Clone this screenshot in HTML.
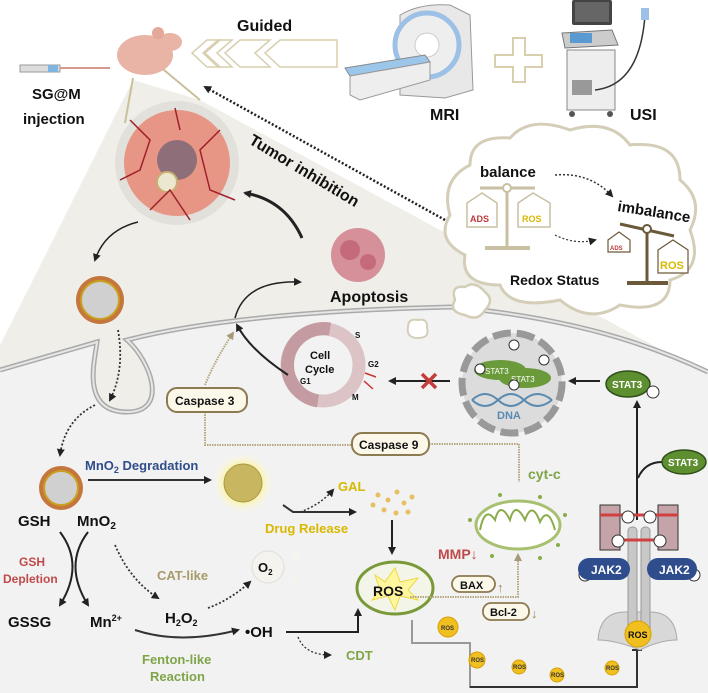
<!DOCTYPE html>
<html><head><meta charset="utf-8"><style>
html,body{margin:0;padding:0;background:#fff}
svg{display:block;font-family:"Liberation Sans",Arial,sans-serif;font-weight:bold}
</style></head><body>
<svg width="708" height="693" viewBox="0 0 708 693" xmlns="http://www.w3.org/2000/svg">
<defs>
<marker id="ah" markerWidth="8" markerHeight="8" refX="6" refY="4" orient="auto" markerUnits="userSpaceOnUse"><path d="M0,0 L8,4 L0,8 Z" fill="#222"/></marker>
<marker id="aht" markerWidth="8" markerHeight="8" refX="6" refY="4" orient="auto" markerUnits="userSpaceOnUse"><path d="M0,0 L8,4 L0,8 Z" fill="#a59a78"/></marker>
<radialGradient id="glow"><stop offset="0.5" stop-color="#fff27a"/><stop offset="1" stop-color="#fffbe0" stop-opacity="0"/></radialGradient>
</defs>
<path d="M133,80 L200,100 L708,375 L708,693 L0,693 L0,345 L33,280 Z" fill="#efeee8"/>
<path d="M0,370 L97,342 C95,360 80,412 127,412 C170,412 150,360 127,340 Q235,312 451,307 Q600,320 708,372 L708,693 L0,693 Z" fill="#f2f2f2"/>
<path d="M0,370 L97,342 C95,360 80,412 127,412 C170,412 150,360 127,340 Q235,312 451,307 Q600,320 708,372" fill="none" stroke="#aaa" stroke-width="5"/>
<path d="M0,370 L97,342 C95,360 80,412 127,412 C170,412 150,360 127,340 Q235,312 451,307 Q600,320 708,372" fill="none" stroke="#e6e6e6" stroke-width="2"/>
<line x1="133" y1="78" x2="125" y2="123" stroke="#c9c09a" stroke-width="2"/>
<line x1="158" y1="65" x2="200" y2="100" stroke="#c9c09a" stroke-width="2"/>
<rect x="20" y="65" width="40" height="7" fill="#ddd" stroke="#999"/><rect x="48" y="65" width="10" height="7" fill="#7fb6e0"/><line x1="60" y1="68" x2="110" y2="68" stroke="#d59b8f" stroke-width="2"/>
<ellipse cx="145" cy="55" rx="28" ry="20" fill="#e9b3a6"/><ellipse cx="170" cy="42" rx="12" ry="9" fill="#e9b3a6"/><circle cx="158" cy="33" r="6" fill="#e3a898"/>
<text x="32" y="99" font-size="15" fill="#111">SG@M</text>
<text x="23" y="124" font-size="15" fill="#111">injection</text>
<text x="237" y="31" font-size="16" fill="#111">Guided</text>
<g fill="none" stroke="#d7cfae" stroke-width="1.5">
<path d="M337,40 L280,40 L265,53 L280,67 L337,67 Z"/>
<path d="M270,40 L240,40 L225,53 L240,67 L270,67 L255,53 Z"/>
<path d="M232,40 L218,40 L203,53 L218,67 L232,67 L217,53 Z"/>
<path d="M220,40 L207,40 L192,53 L207,67 L220,67 L205,53 Z"/>
</g>
<!-- MRI -->
<path d="M400,15 Q420,3 450,5 L470,15 L473,90 L445,98 L400,95 Z" fill="#e8e8e8" stroke="#999"/>
<circle cx="427" cy="45" r="32" fill="#eee" stroke="#9cc0e6" stroke-width="5"/>
<circle cx="427" cy="45" r="12" fill="#fff" stroke="#ccc"/>
<path d="M345,68 L425,55 L430,62 L350,76 Z" fill="#9cc7ea" stroke="#888"/>
<path d="M350,76 L430,62 L430,80 L360,100 L350,95 Z" fill="#eee" stroke="#999"/>
<text x="430" y="120" font-size="16" fill="#111">MRI</text>
<path d="M513,38 h12 v17 h17 v12 h-17 v15 h-12 v-15 h-18 v-12 h18 z" fill="#fff" stroke="#d7cfae" stroke-width="2"/>
<!-- ultrasound -->
<rect x="572" y="0" width="40" height="25" rx="2" fill="#444"/><rect x="575" y="2" width="34" height="20" fill="#666"/>
<path d="M562,33 L612,30 L618,45 L565,48 Z" fill="#ccc" stroke="#777"/><rect x="570" y="33" width="22" height="10" fill="#5a9ad0"/>
<rect x="567" y="50" width="48" height="60" fill="#eee" stroke="#888"/>
<rect x="572" y="80" width="20" height="15" fill="#999"/>
<circle cx="572" cy="114" r="3" fill="#555"/><circle cx="610" cy="114" r="3" fill="#555"/>
<path d="M595,90 Q640,85 645,15" fill="none" stroke="#333" stroke-width="1.5"/><rect x="641" y="8" width="8" height="12" fill="#9cc0e6"/>
<text x="630" y="120" font-size="16" fill="#111">USI</text>
<line x1="445" y1="220" x2="205" y2="87" stroke="#222" stroke-width="2.5" stroke-dasharray="2,2" marker-end="url(#ah)"/>
<circle cx="177" cy="163" r="62" fill="#dcdad4" opacity=".7"/>
<circle cx="177" cy="163" r="53" fill="#e79585"/>
<circle cx="177" cy="160" r="20" fill="#8e6e78"/>
<circle cx="167" cy="182" r="10" fill="#ece8d0" stroke="#c9b070" stroke-width="2"/>
<g stroke="#a0202a" stroke-width="1.5" fill="none"><path d="M130,120 L150,140 L140,170 L120,180"/><path d="M220,130 L200,150 L210,190 L235,200"/><path d="M150,210 L170,190 L190,220"/><path d="M175,108 L180,130"/></g>
<text transform="translate(248,143) rotate(31)" font-size="16" fill="#111">Tumor inhibition</text>
<circle cx="358" cy="255" r="27" fill="#d6909a"/>
<circle cx="350" cy="250" r="10" fill="#c56a7a"/><circle cx="368" cy="262" r="8" fill="#c56a7a"/>
<text x="330" y="302" font-size="16" fill="#111">Apoptosis</text>
<path d="M302,238 Q285,200 245,193" fill="none" stroke="#222" stroke-width="3" marker-end="url(#ah)"/>
<path d="M235,318 Q245,280 300,282" fill="none" stroke="#222" stroke-width="1.5" marker-end="url(#ah)"/>
<path d="M138,222 Q105,230 95,260" fill="none" stroke="#222" stroke-width="1.5" marker-end="url(#ah)"/>
<ellipse cx="100" cy="300" rx="24" ry="24" fill="#c5763c"/><ellipse cx="100" cy="300" rx="19" ry="19" fill="#d0d0d0" stroke="#c9a020" stroke-width="2"/>
<path d="M118,330 Q125,370 110,400" fill="none" stroke="#333" stroke-width="1.8" stroke-dasharray="2,2" marker-end="url(#ah)"/>
<path d="M95,405 Q65,420 60,455" fill="none" stroke="#333" stroke-width="1.8" stroke-dasharray="2,2" marker-end="url(#ah)"/>
<path d="M470,165 Q470,135 510,138 Q530,115 570,130 Q610,118 630,145 Q680,140 680,180 Q705,200 690,230 Q705,270 670,280 Q670,315 620,305 Q590,325 560,300 Q510,310 500,285 Q460,285 465,255 Q435,240 450,215 Q440,180 470,165 Z" fill="#fff" stroke="#d4ceb8" stroke-width="3"/>
<path d="M455,300 Q450,285 465,287 Q475,280 485,292 Q495,300 485,310 Q478,322 465,315 Q448,312 455,300 Z" fill="#fff" stroke="#d4ceb8" stroke-width="2.5"/>
<path d="M408,327 Q408,318 418,320 Q428,318 427,328 Q430,338 418,338 Q406,338 408,327 Z" fill="#fff" stroke="#d4ceb8" stroke-width="2"/>
<text x="480" y="177" font-size="15" fill="#111">balance</text>
<line x1="480" y1="188" x2="535" y2="188" stroke="#c9bfa2" stroke-width="3"/><circle cx="507" cy="188" r="4" fill="#fff" stroke="#c9bfa2" stroke-width="2"/>
<line x1="507" y1="192" x2="507" y2="248" stroke="#c9bfa2" stroke-width="3"/><line x1="485" y1="248" x2="530" y2="248" stroke="#c9bfa2" stroke-width="4"/>
<path d="M467,203 L482,193 L497,203 L497,227 L467,227 Z" fill="#fff" stroke="#c9bfa2" stroke-width="1.5"/>
<path d="M518,203 L533,193 L550,203 L550,227 L518,227 Z" fill="#fff" stroke="#c9bfa2" stroke-width="1.5"/>
<text x="470" y="222" font-size="9" fill="#c03a3a">ADS</text><text x="522" y="222" font-size="9" fill="#d8b800">ROS</text>
<path d="M555,175 Q590,172 612,196" fill="none" stroke="#333" stroke-width="1.5" stroke-dasharray="2,2" marker-end="url(#ah)"/>
<path d="M555,235 Q575,245 595,240" fill="none" stroke="#333" stroke-width="1.2" stroke-dasharray="2,2" marker-end="url(#ah)"/>
<text transform="translate(617,211) rotate(9)" font-size="15" fill="#111">imbalance</text>
<line x1="620" y1="224" x2="674" y2="236" stroke="#6b5a3a" stroke-width="3"/><circle cx="647" cy="229" r="4" fill="#fff" stroke="#6b5a3a" stroke-width="2"/>
<line x1="647" y1="233" x2="647" y2="283" stroke="#6b5a3a" stroke-width="3"/><line x1="627" y1="283" x2="668" y2="283" stroke="#6b5a3a" stroke-width="4"/>
<path d="M608,240 L619,232 L630,240 L630,252 L608,252 Z" fill="#fff" stroke="#6b5a3a" stroke-width="1.2"/>
<path d="M658,250 L673,240 L688,250 L688,273 L658,273 Z" fill="#fff" stroke="#6b5a3a" stroke-width="1.2"/>
<text x="610" y="250" font-size="6" fill="#c03a3a">ADS</text><text x="660" y="269" font-size="11" fill="#d8b800">ROS</text>
<text x="510" y="285" font-size="14" fill="#111">Redox Status</text>
<circle cx="323" cy="365" r="36" fill="none" stroke="#dcc4c6" stroke-width="13"/>
<path d="M330,329 A36,36 0 0 0 318,401" fill="none" stroke="#c49ba0" stroke-width="13"/>
<text x="310" y="359" font-size="11" fill="#111">Cell</text><text x="305" y="373" font-size="11" fill="#111">Cycle</text>
<text x="355" y="338" font-size="8" fill="#111">S</text><text x="368" y="367" font-size="8" fill="#111">G2</text>
<text x="300" y="384" font-size="8" fill="#111">G1</text><text x="352" y="400" font-size="8" fill="#111">M</text>
<line x1="365" y1="373" x2="376" y2="377" stroke="#c33" stroke-width="1.5"/><line x1="364" y1="381" x2="373" y2="389" stroke="#c33" stroke-width="1.5"/>
<path d="M288,375 Q250,350 237,325" fill="none" stroke="#222" stroke-width="2" marker-end="url(#ah)"/>
<line x1="450" y1="381" x2="390" y2="381" stroke="#222" stroke-width="2" marker-end="url(#ah)"/>
<path d="M422,374 L436,388 M436,374 L422,388" stroke="#c43c3c" stroke-width="3.5"/>
<circle cx="512" cy="383" r="50" fill="#dcdcdc" stroke="#999" stroke-width="7" stroke-dasharray="18,6"/>
<ellipse cx="500" cy="370" rx="26" ry="10" fill="#6a9a3a"/><ellipse cx="525" cy="378" rx="26" ry="10" fill="#6a9a3a"/>
<text x="485" y="374" font-size="8" fill="#fff" font-weight="normal">STAT3</text><text x="511" y="382" font-size="8" fill="#fff" font-weight="normal">STAT3</text>
<g fill="#fff" stroke="#333"><circle cx="514" cy="345" r="5"/><circle cx="480" cy="369" r="5"/><circle cx="544" cy="360" r="5"/><circle cx="514" cy="385" r="5"/></g>
<path d="M472,400 Q485,388 498,400 Q511,412 524,400 Q537,388 552,400" fill="none" stroke="#5a8ab0" stroke-width="2"/>
<path d="M472,400 Q485,412 498,400 Q511,388 524,400 Q537,412 552,400" fill="none" stroke="#5a8ab0" stroke-width="2"/>
<text x="497" y="419" font-size="11" fill="#5a8ab0">DNA</text>
<line x1="600" y1="381" x2="570" y2="381" stroke="#222" stroke-width="2" marker-end="url(#ah)"/>
<ellipse cx="628" cy="384" rx="22" ry="13" fill="#5d8e2f" stroke="#2f4f1a" stroke-width="1.5"/>
<text x="612" y="388" font-size="10" fill="#fff">STAT3</text><circle cx="653" cy="392" r="6" fill="#fff" stroke="#333"/>
<line x1="637" y1="520" x2="637" y2="402" stroke="#222" stroke-width="2" marker-end="url(#ah)"/>
<path d="M662,462 Q645,462 638,478" fill="none" stroke="#222" stroke-width="2"/>
<ellipse cx="684" cy="462" rx="22" ry="12" fill="#5d8e2f" stroke="#2f4f1a" stroke-width="1.5"/>
<text x="668" y="466" font-size="10" fill="#fff">STAT3</text>
<path d="M205,412 L205,445 L352,445" fill="none" stroke="#b6a880" stroke-width="2" stroke-dasharray="1.5,1"/>
<path d="M429,444 L519,444 L519,482" fill="none" stroke="#b6a880" stroke-width="2" stroke-dasharray="1.5,1"/>
<path d="M205,385 Q215,360 233,333" fill="none" stroke="#b6a880" stroke-width="2" stroke-dasharray="1.5,1" marker-end="url(#aht)"/>
<rect x="167" y="388" width="80" height="24" rx="10" fill="#fbf8ea" stroke="#8c7a50" stroke-width="2"/>
<text x="175" y="405" font-size="12" fill="#111">Caspase 3</text>
<rect x="352" y="433" width="77" height="22" rx="10" fill="#fbf8ea" stroke="#8c7a50" stroke-width="2"/>
<text x="359" y="449" font-size="12" fill="#111">Caspase 9</text>
<text x="528" y="479" font-size="14" fill="#7fa548">cyt-c</text>
<ellipse cx="61" cy="488" rx="22" ry="22" fill="#c5763c"/><ellipse cx="61" cy="488" rx="17" ry="17" fill="#d0d0d0" stroke="#c9a020" stroke-width="2"/>
<text x="85" y="470" font-size="13" fill="#2f4d8c">MnO<tspan font-size="9" dy="3">2</tspan><tspan dy="-3"> Degradation</tspan></text>
<line x1="88" y1="480" x2="210" y2="480" stroke="#333" stroke-width="2" marker-end="url(#ah)"/>
<circle cx="243" cy="483" r="30" fill="url(#glow)"/>
<circle cx="243" cy="483" r="19" fill="#c9b660" stroke="#a89a40"/>
<path d="M283,505 L293,512 L355,512" fill="none" stroke="#333" stroke-width="2" marker-end="url(#ah)"/>
<path d="M300,512 Q320,505 333,490" fill="none" stroke="#333" stroke-width="1.5" stroke-dasharray="2,2" marker-end="url(#ah)"/>
<text x="338" y="491" font-size="13" fill="#d8b800">GAL</text>
<text x="265" y="533" font-size="13" fill="#d8b800">Drug Release</text>
<g fill="#e6c060"><circle cx="378" cy="495" r="2.5"/><circle cx="388" cy="500" r="2.5"/><circle cx="397" cy="492" r="2.5"/><circle cx="404" cy="503" r="2.5"/><circle cx="384" cy="510" r="2.5"/><circle cx="396" cy="513" r="2.5"/><circle cx="412" cy="497" r="2.5"/><circle cx="408" cy="512" r="2.5"/><circle cx="373" cy="505" r="2.5"/></g>
<line x1="392" y1="520" x2="392" y2="553" stroke="#222" stroke-width="2" marker-end="url(#ah)"/>
<text x="18" y="526" font-size="15" fill="#111">GSH</text>
<text x="77" y="526" font-size="15" fill="#111">MnO<tspan font-size="10" dy="3">2</tspan></text>
<path d="M60,532 Q85,565 60,605" fill="none" stroke="#222" stroke-width="2" marker-end="url(#ah)"/>
<path d="M88,532 Q63,565 88,605" fill="none" stroke="#222" stroke-width="2" marker-end="url(#ah)"/>
<text x="19" y="566" font-size="12" fill="#c04a4a">GSH</text>
<text x="3" y="583" font-size="12" fill="#c04a4a">Depletion</text>
<text x="8" y="627" font-size="15" fill="#111">GSSG</text>
<text x="90" y="627" font-size="15" fill="#111">Mn<tspan font-size="9" dy="-6">2+</tspan></text>
<path d="M115,545 Q130,580 158,598" fill="none" stroke="#333" stroke-width="1.8" stroke-dasharray="2,2" marker-end="url(#ah)"/>
<text x="157" y="580" font-size="13" fill="#a89a6a">CAT-like</text>
<text x="165" y="623" font-size="15" fill="#111">H<tspan font-size="9" dy="3">2</tspan><tspan dy="-3">O</tspan><tspan font-size="9" dy="3">2</tspan></text>
<path d="M208,608 Q230,600 250,582" fill="none" stroke="#333" stroke-width="1.8" stroke-dasharray="2,2" marker-end="url(#ah)"/>
<circle cx="268" cy="567" r="16" fill="#f4f3ee" stroke="#ddd"/>
<text x="258" y="572" font-size="13" fill="#111">O<tspan font-size="8" dy="3">2</tspan></text>
<circle cx="296" cy="555" r="5" fill="#f4f3ee"/><circle cx="295" cy="578" r="5" fill="#f4f3ee"/>
<path d="M135,630 Q180,645 238,630" fill="none" stroke="#333" stroke-width="2" marker-end="url(#ah)"/>
<text x="245" y="637" font-size="15" fill="#111">•OH</text>
<path d="M286,632 L358,632 L358,610" fill="none" stroke="#222" stroke-width="2" marker-end="url(#ah)"/>
<path d="M298,637 Q305,655 330,655" fill="none" stroke="#333" stroke-width="1.3" stroke-dasharray="2,2" marker-end="url(#ah)"/>
<text x="346" y="660" font-size="13" fill="#7fa548">CDT</text>
<text x="142" y="664" font-size="13" fill="#7fa548">Fenton-like</text>
<text x="150" y="681" font-size="13" fill="#7fa548">Reaction</text>
<ellipse cx="395" cy="588" rx="38" ry="26" fill="#f3f5e8" stroke="#7a9a3a" stroke-width="3"/>
<path d="M375,575 L385,582 L395,568 L400,582 L418,578 L408,590 L418,600 L400,596 L395,610 L388,596 L372,600 L380,590 Z" fill="#fff7a0" stroke="#f0d840"/>
<text x="373" y="596" font-size="14" fill="#111">ROS</text>
<ellipse cx="518" cy="525" rx="42" ry="24" fill="#fff" stroke="#a8c070" stroke-width="3"/>
<path d="M480,530 Q485,505 495,520 Q500,500 510,520 Q515,500 525,520 Q532,500 540,522 Q548,505 555,530" fill="none" stroke="#8aab4a" stroke-width="2"/>
<g fill="#8aab4a"><circle cx="470" cy="520" r="2"/><circle cx="565" cy="515" r="2"/><circle cx="500" cy="495" r="2"/><circle cx="540" cy="497" r="2"/><circle cx="492" cy="556" r="2"/><circle cx="540" cy="558" r="2"/><circle cx="558" cy="545" r="2"/></g>
<text x="438" y="559" font-size="14" fill="#c04a4a">MMP↓</text>
<path d="M410,597 L518,597 L518,555" fill="none" stroke="#b6a880" stroke-width="2" stroke-dasharray="1.5,1" marker-end="url(#aht)"/>
<rect x="452" y="576" width="43" height="16" rx="8" fill="#fbf8ea" stroke="#8c7a50" stroke-width="1.8"/>
<text x="460" y="589" font-size="11" fill="#111">BAX</text><text x="497" y="592" font-size="13" fill="#a08a50" font-weight="normal">↑</text>
<rect x="483" y="603" width="46" height="17" rx="8" fill="#fbf8ea" stroke="#8c7a50" stroke-width="1.8"/>
<text x="490" y="616" font-size="11" fill="#111">Bcl-2</text><text x="531" y="618" font-size="13" fill="#a08a50" font-weight="normal">↓</text>
<path d="M412,620 L412,643 L470,643 L470,687 L637,687 L637,650" fill="none" stroke="#999" stroke-width="2"/>
<path d="M470,687 L637,687 L637,650" fill="none" stroke="#333" stroke-width="2"/><line x1="632" y1="650" x2="642" y2="650" stroke="#333" stroke-width="2"/>
<g fill="#f0c020" stroke="#d8a000"><circle cx="448" cy="627" r="10"/><circle cx="477" cy="660" r="8"/><circle cx="519" cy="667" r="7"/><circle cx="557" cy="675" r="7"/><circle cx="612" cy="668" r="7"/></g>
<g font-size="6" fill="#333"><text x="441" y="630">ROS</text><text x="471" y="662">ROS</text><text x="513" y="669">ROS</text><text x="551" y="677">ROS</text><text x="606" y="670">ROS</text></g>
<path d="M598,640 Q600,612 625,612 L650,612 Q675,612 677,640 Q660,640 640,650 Q615,640 598,640 Z" fill="#d8d8d8" stroke="#aaa"/>
<rect x="628" y="527" width="9" height="105" rx="4" fill="#c8c8c8" stroke="#999"/>
<rect x="641" y="527" width="9" height="105" rx="4" fill="#c8c8c8" stroke="#999"/>
<path d="M600,505 L620,505 L620,550 L600,550 Z" fill="#c4a4a8" stroke="#333"/>
<path d="M658,505 L678,505 L678,550 L658,550 Z" fill="#c4a4a8" stroke="#333"/>
<line x1="600" y1="515" x2="678" y2="515" stroke="#d04040" stroke-width="3"/>
<line x1="615" y1="540" x2="662" y2="540" stroke="#d04040" stroke-width="3"/>
<g fill="#fff" stroke="#333"><circle cx="628" cy="517" r="6"/><circle cx="650" cy="517" r="6"/><circle cx="618" cy="541" r="6"/><circle cx="660" cy="541" r="6"/><circle cx="585" cy="575" r="6"/><circle cx="694" cy="575" r="6"/></g>
<rect x="578" y="558" width="52" height="22" rx="11" fill="#2f4d8c"/><rect x="647" y="558" width="50" height="22" rx="11" fill="#2f4d8c"/>
<text x="591" y="574" font-size="12" fill="#fff">JAK2</text><text x="659" y="574" font-size="12" fill="#fff">JAK2</text>
<circle cx="638" cy="634" r="13" fill="#f0c020" stroke="#d8a000"/>
<text x="628" y="638" font-size="9" fill="#111">ROS</text>
</svg>
</body></html>
